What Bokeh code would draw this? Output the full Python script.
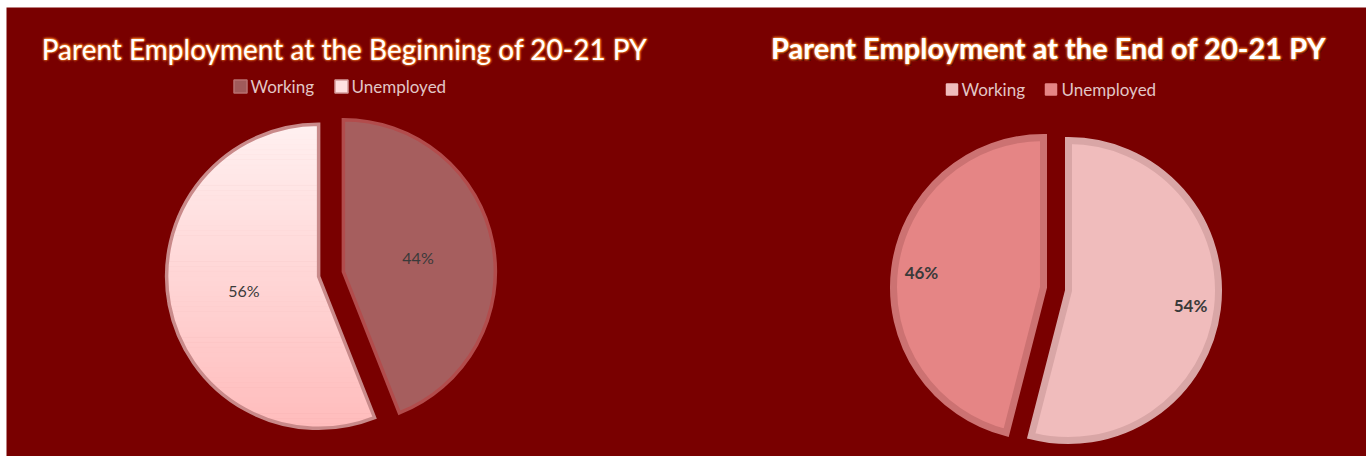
import numpy as np
from bokeh.plotting import figure
from bokeh.models import Range1d
from bokeh.core.properties import value
from bokeh.embed import file_html
from bokeh.resources import INLINE

# ---------------- data ----------------
categories = ["Working", "Unemployed"]
begin_pct = [44, 56]
end_pct = [54, 46]
begin_labels = ["44%", "56%"]
end_labels = ["54%", "46%"]
title_begin = "Parent Employment at the Beginning of 20-21 PY"
title_end = "Parent Employment at the End of 20-21 PY"

# ---------------- layout / style ----------------
PW, PH = 1366, 456          # whole figure
ML, MT = 6, 7               # white margin left / top
BG = "#790000"
FONT = "Lato"


def sy(y):
    """page y (downwards) -> data y (upwards)"""
    return PH - y


p = figure(width=PW, height=PH, x_range=Range1d(ML, PW), y_range=Range1d(0, PH - MT),
           output_backend="svg", toolbar_location=None,
           min_border_left=ML, min_border_top=MT, min_border_right=0, min_border_bottom=0,
           x_axis_location=None, y_axis_location=None,
           background_fill_color=BG, border_fill_color="#ffffff", outline_line_color=None)
p.grid.visible = False


def hex2rgb(h):
    h = h.lstrip("#")
    return np.array([int(h[i:i + 2], 16) for i in (0, 2, 4)], dtype=float)


def rgb2hex(c):
    return "#%02x%02x%02x" % tuple(int(round(v)) for v in c)


def clip_band(poly, ylo, yhi):
    def clip(pts, inside, inter):
        out = []
        n = len(pts)
        for i in range(n):
            a = pts[i]
            b = pts[(i + 1) % n]
            ia, ib = inside(a), inside(b)
            if ia:
                out.append(a)
                if not ib:
                    out.append(inter(a, b))
            elif ib:
                out.append(inter(a, b))
        return out

    def interY(y0):
        def f(a, b):
            t = (y0 - a[1]) / (b[1] - a[1])
            return (a[0] + t * (b[0] - a[0]), y0)
        return f

    pts = clip(poly, lambda q: q[1] >= ylo, interY(ylo))
    if not pts:
        return []
    pts = clip(pts, lambda q: q[1] <= yhi, interY(yhi))
    return pts


def draw_pie(cx, cy_page, r, explode, vals, labels, fills, lines, lw,
             label_frac, label_style, label_size, grad=None):
    fr = np.array(vals, dtype=float) / sum(vals)
    cum = np.concatenate([[0.0], np.cumsum(fr)]) * 2 * np.pi
    cy = sy(cy_page)
    for i in range(len(vals)):
        t0, t1 = cum[i], cum[i + 1]
        mid = 0.5 * (t0 + t1)
        ox = cx + explode * np.sin(mid)
        oy = cy + explode * np.cos(mid)
        if grad is not None and grad[i] is not None:
            ctop, cbot = hex2rgb(grad[i][0]), hex2rgb(grad[i][1])
            ts = np.linspace(t0, t1, 200)
            poly = [(ox, oy)] + [(ox + r * np.sin(t), oy + r * np.cos(t)) for t in ts]
            ys = [q[1] for q in poly]
            ymin, ymax = min(ys), max(ys)
            n = 60
            xs_l, ys_l, cols = [], [], []
            edges = np.linspace(ymax, ymin, n + 1)
            for k in range(n):
                band = clip_band(poly, edges[k + 1], edges[k])
                if len(band) < 3:
                    continue
                f = (k + 0.5) / n
                cols.append(rgb2hex(ctop * (1 - f) + cbot * f))
                xs_l.append([q[0] for q in band])
                ys_l.append([q[1] for q in band])
            p.patches(xs=xs_l, ys=ys_l, fill_color=cols, line_color=cols, line_width=1)
            p.wedge(x=[ox], y=[oy], radius=r, start_angle=np.pi / 2 - t0,
                    end_angle=np.pi / 2 - t1, direction="clock",
                    fill_alpha=0, line_color=lines[i], line_width=lw, line_join="miter")
        else:
            p.wedge(x=[ox], y=[oy], radius=r, start_angle=np.pi / 2 - t0,
                    end_angle=np.pi / 2 - t1, direction="clock",
                    fill_color=fills[i], line_color=lines[i], line_width=lw,
                    line_join="miter")
        lx = ox + label_frac * r * np.sin(mid)
        ly = oy + label_frac * r * np.cos(mid)
        p.text(x=[lx], y=[ly], text=[labels[i]], text_font=value(FONT),
               text_font_size=label_size, text_font_style=label_style,
               text_color="#3a3a3a", text_align="center", text_baseline="middle")


def draw_title(cx, base_page, txt, style, size, shadow=False):
    y = sy(base_page)
    if shadow:
        p.text(x=[cx], y=[y], text=[txt], text_font=value(FONT), text_font_size=size,
               text_font_style=style, text_color="#2a0000", text_alpha=0.6,
               text_align="center", text_baseline="alphabetic", x_offset=2, y_offset=2)
    for rad, alpha in ((3, 0.05), (2, 0.10), (1, 0.16)):
        for a in np.linspace(0, 2 * np.pi, 12, endpoint=False):
            p.text(x=[cx], y=[y], text=[txt], text_font=value(FONT), text_font_size=size,
                   text_font_style=style, text_color="#ff8a2a", text_alpha=alpha,
                   text_align="center", text_baseline="alphabetic",
                   x_offset=float(rad * np.cos(a)), y_offset=float(rad * np.sin(a)))
    p.text(x=[cx], y=[y], text=[txt], text_font=value(FONT), text_font_size=size,
           text_font_style=style, text_color="#ffffff",
           text_align="center", text_baseline="alphabetic")


def draw_legend(items, mark_x, text_x, y_page, fills, lines, msize):
    y = sy(y_page)
    p.scatter(x=mark_x, y=[y] * len(items), marker="square", size=msize,
              fill_color=fills, line_color=lines, line_width=1.5)
    p.text(x=text_x, y=[y] * len(items), text=items, text_font=value(FONT),
           text_font_size="17px", text_color="#e2c6c6", text_align="left",
           text_baseline="middle")


# ---------------- chart 1 : beginning ----------------
draw_title(344, 48, title_begin, "normal", "28px")
draw_legend(categories, [240, 341], [250, 351], 86,
            ["#a05a5a", "#ffe0e0"], ["#b87070", "#d49a9a"], 13)
draw_pie(330.5, 273.5, 152, 12.6, begin_pct, begin_labels,
         ["#a65e5e", None], ["#b24c4c", "#c98a8a"], 3.5, 0.5, "normal", "16px",
         grad=[None, ("#fff0f0", "#ffbcbc")])

# ---------------- chart 2 : end ----------------
draw_title(1048, 47, title_end, "bold", "29px", shadow=True)
draw_legend(categories, [951.5, 1050.5], [961, 1061], 89,
            ["#f0bcbc", "#e58585"], ["#f0bcbc", "#e58585"], 11)
draw_pie(1055.5, 288.5, 150, 12.6, end_pct, end_labels,
         ["#f0bcbc", "#e58585"], ["#d9a6a6", "#cc7272"], 7, 0.82, "bold", "17px")

open("out.html", "w").write(file_html(p, INLINE))
